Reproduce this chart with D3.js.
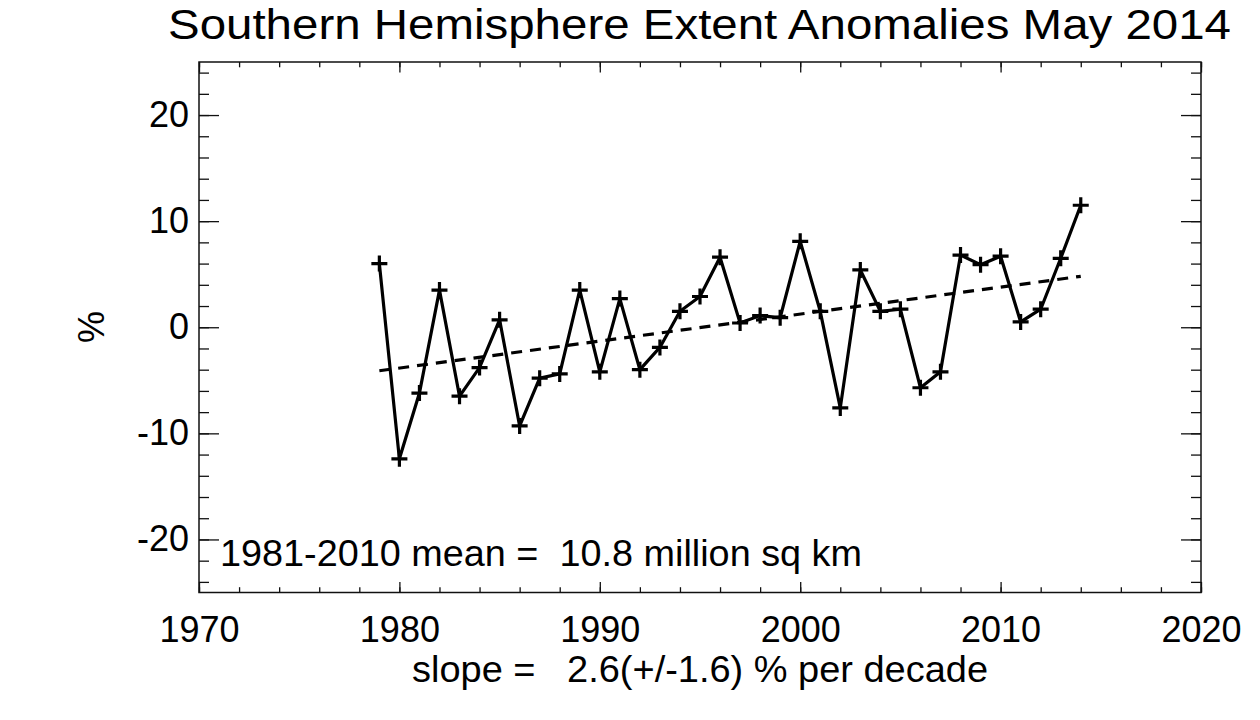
<!DOCTYPE html>
<html>
<head>
<meta charset="utf-8">
<script src="https://cdn.jsdelivr.net/npm/d3@7"></script>
<style>
  html, body { margin: 0; padding: 0; background: #fff; }
  svg { display: block; }
  text { font-family: "Liberation Sans", Arial, Helvetica, sans-serif; fill: #000; white-space: pre; }
</style>
</head>
<body>
<svg id="chart" width="1260" height="720"></svg>
<script>
// ---- Data ----
const years = [1979,1980,1981,1982,1983,1984,1985,1986,1987,1988,1989,1990,1991,1992,1993,1994,1995,1996,1997,1998,1999,2000,2001,2002,2003,2004,2005,2006,2007,2008,2009,2010,2011,2012,2013,2014];
const anomalies = [6.0,-12.4,-6.2,3.5,-6.5,-3.8,0.7,-9.3,-4.8,-4.4,3.5,-4.2,2.7,-4.0,-1.9,1.5,2.9,6.6,0.4,1.1,0.9,8.1,1.5,-7.6,5.4,1.5,1.7,-5.7,-4.2,6.8,5.9,6.7,0.5,1.7,6.5,11.5];
const trendYears = [1979, 2014];
const trendValues = [-4.1, 4.8];
const xTickValues = [1970, 1980, 1990, 2000, 2010, 2020];
const yTickValues = [-20, -10, 0, 10, 20];
const titleText = "Southern Hemisphere Extent Anomalies May 2014";
const yLabelText = "%";
const xLabelText = "slope =   2.6(+/-1.6) % per decade";
const meanText = "1981-2010 mean =  10.8 million sq km";

// ---- Layout ----
const svg = d3.select("#chart");
const L = 199, R = 1201, T = 62, B = 592.5;
const x = d3.scaleLinear().domain([1970, 2020]).range([L, R]);
const y = d3.scaleLinear().domain([-25, 25]).range([B, T]);

const xMinor = d3.range(1970, 2020.1, 2);
const yMinor = d3.range(-24, 24.1, 2);
const fontSize = 36;

function styleAxis(g) {
  g.select(".domain").remove();
  g.selectAll("line").attr("stroke", "#111").attr("stroke-width", 1.3);
  g.selectAll("text").style("font-size", fontSize + "px").style("font-family", '"Liberation Sans", Arial, sans-serif');
}

// minor ticks
svg.append("g").attr("transform", `translate(0,${B})`)
  .call(d3.axisBottom(x).tickValues(xMinor).tickSize(-5.3).tickFormat(""))
  .call(styleAxis);
svg.append("g").attr("transform", `translate(0,${T})`)
  .call(d3.axisTop(x).tickValues(xMinor).tickSize(-5.3).tickFormat(""))
  .call(styleAxis);
svg.append("g").attr("transform", `translate(${L},0)`)
  .call(d3.axisLeft(y).tickValues(yMinor).tickSize(-10).tickFormat(""))
  .call(styleAxis);
svg.append("g").attr("transform", `translate(${R},0)`)
  .call(d3.axisRight(y).tickValues(yMinor).tickSize(-10).tickFormat(""))
  .call(styleAxis);

// major ticks
svg.append("g").attr("transform", `translate(0,${B})`)
  .call(d3.axisBottom(x).tickValues(xTickValues).tickSize(-10.6).tickPadding(24).tickFormat(d => String(d)))
  .call(styleAxis);
svg.append("g").attr("transform", `translate(0,${T})`)
  .call(d3.axisTop(x).tickValues(xTickValues).tickSize(-10.6).tickFormat(""))
  .call(styleAxis);
svg.append("g").attr("transform", `translate(${L},0)`)
  .call(d3.axisLeft(y).tickValues(yTickValues).tickSize(-20).tickPadding(10).tickFormat(d => d.toString()))
  .call(styleAxis);
svg.append("g").attr("transform", `translate(${R},0)`)
  .call(d3.axisRight(y).tickValues(yTickValues).tickSize(-20).tickFormat(""))
  .call(styleAxis);

// frame
svg.append("rect")
  .attr("x", L).attr("y", T).attr("width", R - L).attr("height", B - T)
  .attr("fill", "none").attr("stroke", "#111").attr("stroke-width", 1.5);

// trend line
const pts = years.map((yr, i) => [yr, anomalies[i]]);
const tpts = trendYears.map((yr, i) => [yr, trendValues[i]]);
const line = d3.line().x(d => x(d[0])).y(d => y(d[1]));

svg.append("path").datum(tpts)
  .attr("d", line).attr("fill", "none")
  .attr("stroke", "#000").attr("stroke-width", 3.2)
  .attr("stroke-dasharray", "11,8");

// data line
svg.append("path").datum(pts)
  .attr("d", line).attr("fill", "none")
  .attr("stroke", "#000").attr("stroke-width", 3.2)
  .attr("stroke-linejoin", "miter");

// plus markers
const arm = 8;
svg.append("g").selectAll("path.mk").data(pts).join("path")
  .attr("d", d => {
    const cx = x(d[0]), cy = y(d[1]);
    return `M${cx - arm},${cy}H${cx + arm}M${cx},${cy - arm}V${cy + arm}`;
  })
  .attr("stroke", "#000").attr("stroke-width", 3.2).attr("fill", "none");

// texts
svg.append("text").attr("x", 699.5).attr("y", 39)
  .attr("text-anchor", "middle").style("font-size", "43px")
  .attr("textLength", 1063).attr("lengthAdjust", "spacingAndGlyphs")
  .text(titleText);

svg.append("text").attr("transform", `translate(104,327) rotate(-90)`)
  .attr("text-anchor", "middle").style("font-size", fontSize + "px").text(yLabelText);

svg.append("text").attr("x", 700).attr("y", 682)
  .attr("text-anchor", "middle").style("font-size", fontSize + "px")
  .attr("textLength", 576).attr("lengthAdjust", "spacingAndGlyphs")
  .text(xLabelText);

svg.append("text").attr("x", 220).attr("y", 566)
  .attr("text-anchor", "start").style("font-size", fontSize + "px")
  .attr("textLength", 642).attr("lengthAdjust", "spacingAndGlyphs")
  .text(meanText);
</script>
</body>
</html>
